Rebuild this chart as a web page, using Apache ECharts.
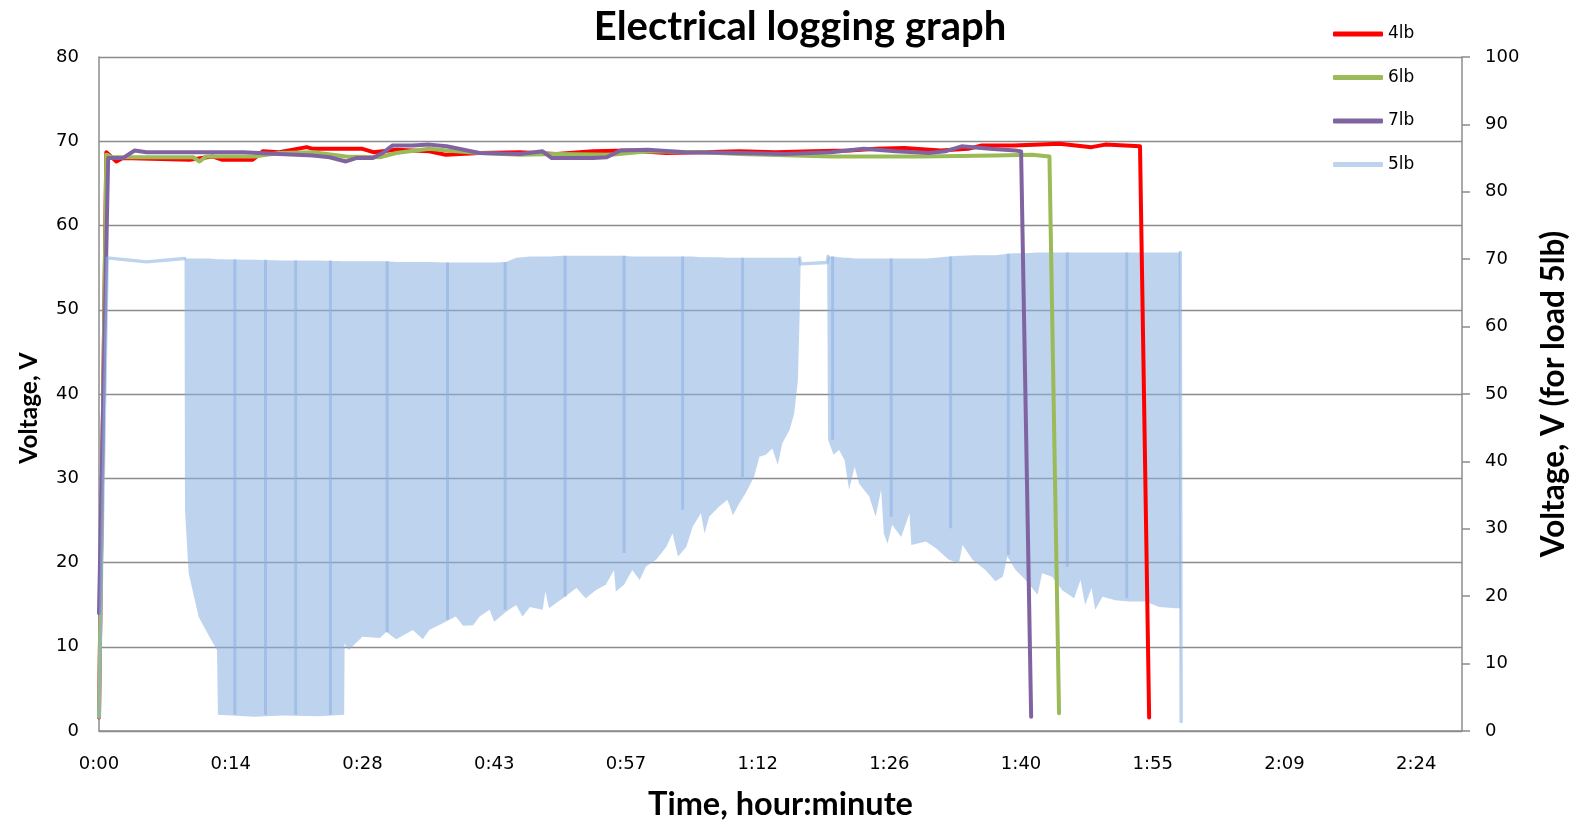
<!DOCTYPE html>
<html>
<head>
<meta charset="utf-8">
<script src="https://cdn.jsdelivr.net/npm/echarts@6/dist/echarts.min.js"></script>
<style>
  html, body { margin: 0; padding: 0; background: #fff; }
  #chart { width: 1578px; height: 826px; }
</style>
</head>
<body>
<div id="chart"></div>
<script>
// Times are minutes since the start of the run; voltages in volts.

// 4lb load (left axis)
const t4 = [0, 0.8, 1.9, 2.6, 9.9, 12.4, 13.5, 16.8, 17.9, 19.7, 22.7, 23.4, 28.8, 30.0, 32.5, 36.1, 37.9, 41.6, 46, 50, 54, 58, 62, 66, 70, 74, 78, 82, 85, 88, 92, 95, 96.5, 100, 105, 107.5, 108.5, 110, 113.8, 114.8];
const v4 = [1.6, 68.7, 67.6, 68.0, 67.8, 68.2, 67.8, 67.8, 68.8, 68.7, 69.3, 69.1, 69.1, 68.7, 69.0, 68.8, 68.4, 68.6, 68.7, 68.5, 68.8, 68.9, 68.6, 68.7, 68.8, 68.7, 68.8, 68.9, 69.1, 69.2, 68.9, 69.1, 69.5, 69.5, 69.7, 69.4, 69.3, 69.6, 69.4, 1.6];

// 6lb load (left axis)
const t6 = [0, 0.8, 1.5, 10.3, 11.0, 11.7, 17, 19.7, 23.4, 27, 30.7, 32.5, 36.1, 38, 41.6, 46, 50, 56, 60, 66, 70, 76, 80, 90, 98, 102, 103.9, 104.95];
const v6 = [1.7, 68.4, 68.1, 68.1, 67.6, 68.2, 68.2, 68.6, 68.7, 68.2, 68.1, 68.6, 69.1, 68.9, 68.6, 68.4, 68.5, 68.4, 68.8, 68.7, 68.5, 68.3, 68.2, 68.2, 68.3, 68.4, 68.2, 2.1];

// 7lb load (left axis)
const t7 = [0, 1.0, 2.6, 3.9, 5.2, 11.4, 15.8, 19.7, 23.4, 25.2, 27.0, 28.1, 29.9, 31.0, 32.1, 34.3, 36.1, 38.0, 41.6, 46, 48.5, 49.5, 54, 55.5, 57, 60, 64, 70, 75, 80, 83.6, 87.1, 90.7, 92.5, 94.3, 97.4, 100.2, 100.8, 101.9];
const v7 = [14, 68.0, 68.0, 68.9, 68.7, 68.7, 68.7, 68.5, 68.3, 68.1, 67.6, 68.0, 68.0, 68.6, 69.5, 69.5, 69.6, 69.4, 68.6, 68.5, 68.8, 68.0, 68.0, 68.1, 68.9, 69.0, 68.7, 68.6, 68.5, 68.7, 69.1, 68.8, 68.6, 68.8, 69.4, 69.1, 68.9, 68.8, 1.7];

// 5lb load (right axis): the pulsed signal swings between a peak (hi5) and a trough (lo5)
const t5 = [0, 0.9, 5.2, 9.35, 9.4, 9.8, 10.9, 12.1, 12.9, 13.0, 17.0, 20.0, 24.0, 26.8, 26.85, 27.3, 28.8, 30.7, 31.4, 32.5,
  34.3, 35.4, 36.1, 37.9, 39.0, 39.8, 40.9, 41.6, 42.7, 43.2, 44.5, 45.6, 46.3, 47.1, 48.5, 48.8, 49.2, 50.7, 52.2, 53.2,
  54.3, 55.4, 56.3, 56.5, 57.4, 58.3, 59.1, 59.8, 60.9, 62.0, 62.7, 63.3, 64.2, 64.9, 65.8, 66.2, 66.7, 67.8, 68.7, 69.3,
  70.0, 70.7, 71.6, 72.2, 72.9, 73.6, 74.2, 74.7, 75.5, 76.0, 76.4, 76.6, 76.7, 79.6, 79.7, 80.3, 80.9, 81.5, 82.0, 82.6,
  83.1, 84.2, 84.9, 85.5, 85.8, 86.2, 86.7, 87.7, 88.6, 88.8, 90.4, 91.5, 92.9, 94.0, 94.4, 95.5, 96.9, 98.0, 98.8, 99.3,
  100.2, 101.3, 102.6, 103.1, 104.2, 105.3, 106.6, 107.3, 107.8, 108.5, 108.9, 109.7, 111.1, 112.6, 114.4, 115.9, 117.7, 118.2, 118.3];
const lo5 = [2, 70.2, 69.6, 70.1, 32.8, 23.4, 16.9, 13.9, 12.0, 2.4, 2.1, 2.3, 2.2, 2.4, 13.0, 12.0, 14.0, 13.8, 14.7, 13.6,
  15.0, 13.6, 15.0, 16.2, 17.0, 15.6, 15.7, 17.0, 18.0, 16.2, 17.7, 18.7, 17.0, 18.4, 18.0, 20.7, 18.2, 19.7, 21.2, 19.7,
  20.9, 21.7, 23.9, 20.7, 21.7, 23.9, 22.4, 24.4, 25.4, 27.3, 29.3, 25.9, 27.3, 30.3, 32.3, 29.3, 31.8, 33.3, 34.3, 32.0,
  33.8, 35.3, 37.7, 40.7, 41.0, 41.9, 39.5, 42.7, 44.7, 47.1, 52.0, 62.0, 69.3, 69.5, 43.2, 41.0, 41.7, 40.2, 35.8, 39.2,
  36.7, 34.8, 31.8, 35.8, 29.3, 27.8, 30.6, 28.8, 32.3, 27.6, 28.1, 27.1, 25.4, 24.9, 27.6, 25.4, 23.9, 22.2, 22.9, 25.9,
  23.9, 22.4, 20.2, 23.4, 22.9, 20.9, 19.7, 22.4, 18.7, 21.2, 18.0, 19.9, 19.4, 19.2, 19.2, 18.4, 18.2, 18.2, 1.4];
const hi5 = [2, 70.2, 69.6, 70.1, 70.1, 70.1, 70.1, 70.1, 70.0, 70.0, 69.9, 69.8, 69.8, 69.7, 69.7, 69.7, 69.7, 69.7, 69.7, 69.6,
  69.6, 69.6, 69.6, 69.5, 69.5, 69.5, 69.5, 69.5, 69.5, 69.5, 69.6, 70.2, 70.3, 70.4, 70.4, 70.4, 70.4, 70.5, 70.5, 70.5,
  70.5, 70.5, 70.5, 70.5, 70.5, 70.4, 70.4, 70.4, 70.4, 70.4, 70.4, 70.4, 70.4, 70.4, 70.3, 70.3, 70.3, 70.3, 70.2, 70.2,
  70.2, 70.2, 70.2, 70.2, 70.2, 70.2, 70.2, 70.2, 70.2, 70.2, 70.2, 70.2, 69.3, 69.5, 70.4, 70.4, 70.3, 70.2, 70.2, 70.1,
  70.1, 70.1, 70.1, 70.1, 70.1, 70.1, 70.1, 70.1, 70.1, 70.1, 70.1, 70.2, 70.4, 70.5, 70.5, 70.6, 70.6, 70.6, 70.7, 70.8,
  70.9, 70.9, 71.0, 71.0, 71.0, 71.0, 71.0, 71.0, 71.0, 71.0, 71.0, 71.0, 71.0, 71.0, 71.0, 71.0, 71.0, 71.0, 1.4];

// Moments where the 5lb trace lingered on a full swing (drawn as denser strokes)
const stripeT   = [14.85, 18.2, 21.5, 25.3, 31.5, 38.1, 44.4, 50.95, 57.4, 63.8, 70.35, 80.2, 86.6, 93.1, 99.4, 105.85, 112.35];
const stripeLo  = [2.4, 2.4, 2.4, 2.4, 14.7, 16.5, 18.0, 19.9, 26.4, 32.8, 37.7, 43.2, 31.8, 30.1, 26.1, 24.4, 19.7];
const stripeTop = [70.0, 69.9, 69.8, 69.8, 69.7, 69.5, 69.6, 70.5, 70.5, 70.4, 70.2, 70.4, 70.1, 70.4, 70.8, 71.0, 71.0];

const seriesNames = ['4lb', '6lb', '7lb', '5lb'];
const seriesColors = ['#ff0000', '#9bbb59', '#8064a2', 'rgba(141,178,225,0.57)'];

const zip = (ts, vs) => ts.map((t, i) => [t, vs[i]]);

// Flat stretches of the 5lb trace (peak equals trough) and their neighbours
const flat = i => i >= 0 && i < t5.length && lo5[i] === hi5[i];
const thin5 = t5.map((t, i) => (flat(i) || flat(i - 1) || flat(i + 1)) ? [t, hi5[i]] : [t, '-']);

const stripes = [];
stripeT.forEach((t, i) => {
  stripes.push([t, stripeTop[i]], [t, stripeLo[i]], [t, '-']);
});

const fmtTime = v => {
  const m = Math.floor(v + 1e-6);
  return Math.floor(m / 60) + ':' + String(m % 60).padStart(2, '0');
};

const AX = '#8c8c8c';
const tickFont = 'DejaVu Sans';
const boldFont = 'Lato';

const lineSeries = (name, data, color) => ({
  name, type: 'line', data, yAxisIndex: 0,
  showSymbol: false, symbol: 'none', silent: true,
  color,
  lineStyle: { color, width: 4, cap: 'round', join: 'round' }
});

// Band between trough and peak of the 5lb swing, as one polygon
const swingBand = (params, api) => {
  if (params.dataIndex !== 0) return null;
  const top = t5.map((t, i) => api.coord([t, hi5[i]]));
  const bottom = t5.map((t, i) => api.coord([t, lo5[i]])).reverse();
  return {
    type: 'polygon',
    shape: { points: top.concat(bottom) },
    style: { fill: seriesColors[3] },
    silent: true
  };
};

const chart = echarts.init(document.getElementById('chart'), null, { renderer: 'canvas' });
chart.setOption({
  animation: false,
  backgroundColor: '#fff',
  title: {
    text: 'Electrical logging graph',
    left: 795, top: 2, textAlign: 'center',
    textStyle: { fontFamily: boldFont, fontWeight: 'bold', fontSize: 40, color: '#000' }
  },
  legend: {
    orient: 'vertical', left: 1328, top: 19,
    itemWidth: 50, itemHeight: 5, itemGap: 23.5,
    icon: 'roundRect',
    data: seriesNames,
    textStyle: { fontFamily: tickFont, fontSize: 17, color: '#000', lineHeight: 20 }
  },
  grid: { left: 99, right: 115, top: 57, bottom: 95, containLabel: false },
  xAxis: {
    type: 'value', min: 0, max: 149, interval: 14.4,
    name: 'Time, hour:minute', nameLocation: 'middle', nameGap: 57,
    nameTextStyle: { fontFamily: boldFont, fontWeight: 'bold', fontSize: 32.5, color: '#000' },
    axisLine: { show: true, lineStyle: { color: AX, width: 1.5 } },
    axisTick: { show: false },
    splitLine: { show: false },
    axisLabel: { formatter: fmtTime, margin: 24, showMaxLabel: false, fontFamily: tickFont, fontSize: 18, color: '#000' }
  },
  yAxis: [
    {
      type: 'value', min: 0, max: 80, interval: 10, position: 'left',
      name: 'Voltage, V', nameLocation: 'middle', nameGap: 57, nameRotate: 90,
      nameTextStyle: { fontFamily: boldFont, fontWeight: 'bold', fontSize: 24.5, color: '#000', padding: [0, 28, 0, 0] },
      axisLine: { show: true, lineStyle: { color: AX, width: 1.5 } },
      axisTick: { show: false },
      splitLine: { show: true, lineStyle: { color: AX, width: 1.4 } },
      axisLabel: { margin: 20, fontFamily: tickFont, fontSize: 18, color: '#000' }
    },
    {
      type: 'value', min: 0, max: 100, interval: 10, position: 'right',
      name: 'Voltage, V (for load 5lb)', nameLocation: 'middle', nameGap: 76, nameRotate: 90,
      nameTextStyle: { fontFamily: boldFont, fontWeight: 'bold', fontSize: 31.5, color: '#000' },
      axisLine: { show: true, lineStyle: { color: AX, width: 1.5 } },
      axisTick: { show: true, inside: false, length: 8, lineStyle: { color: AX, width: 1.5 } },
      splitLine: { show: false },
      axisLabel: { margin: 23, fontFamily: tickFont, fontSize: 18, color: '#000' }
    }
  ],
  series: [
    lineSeries('4lb', zip(t4, v4), seriesColors[0]),
    lineSeries('6lb', zip(t6, v6), seriesColors[1]),
    lineSeries('7lb', zip(t7, v7), seriesColors[2]),
    {
      name: '5lb', type: 'custom', coordinateSystem: 'cartesian2d',
      xAxisIndex: 0, yAxisIndex: 1,
      data: t5.map((t, i) => [t, lo5[i], hi5[i]]),
      encode: { x: 0, y: [1, 2] },
      renderItem: swingBand,
      color: seriesColors[3],
      itemStyle: { color: seriesColors[3] },
      silent: true
    },
    {
      name: '5lb flat', type: 'line', yAxisIndex: 1,
      data: thin5, showSymbol: false, symbol: 'none', silent: true, connectNulls: false,
      lineStyle: { color: seriesColors[3], width: 3.4, cap: 'round', join: 'round' }
    },
    {
      name: '5lb swings', type: 'line', yAxisIndex: 1,
      data: stripes, showSymbol: false, symbol: 'none', silent: true, connectNulls: false,
      lineStyle: { color: seriesColors[3], width: 3, cap: 'butt' }
    }
  ]
});
</script>
</body>
</html>
